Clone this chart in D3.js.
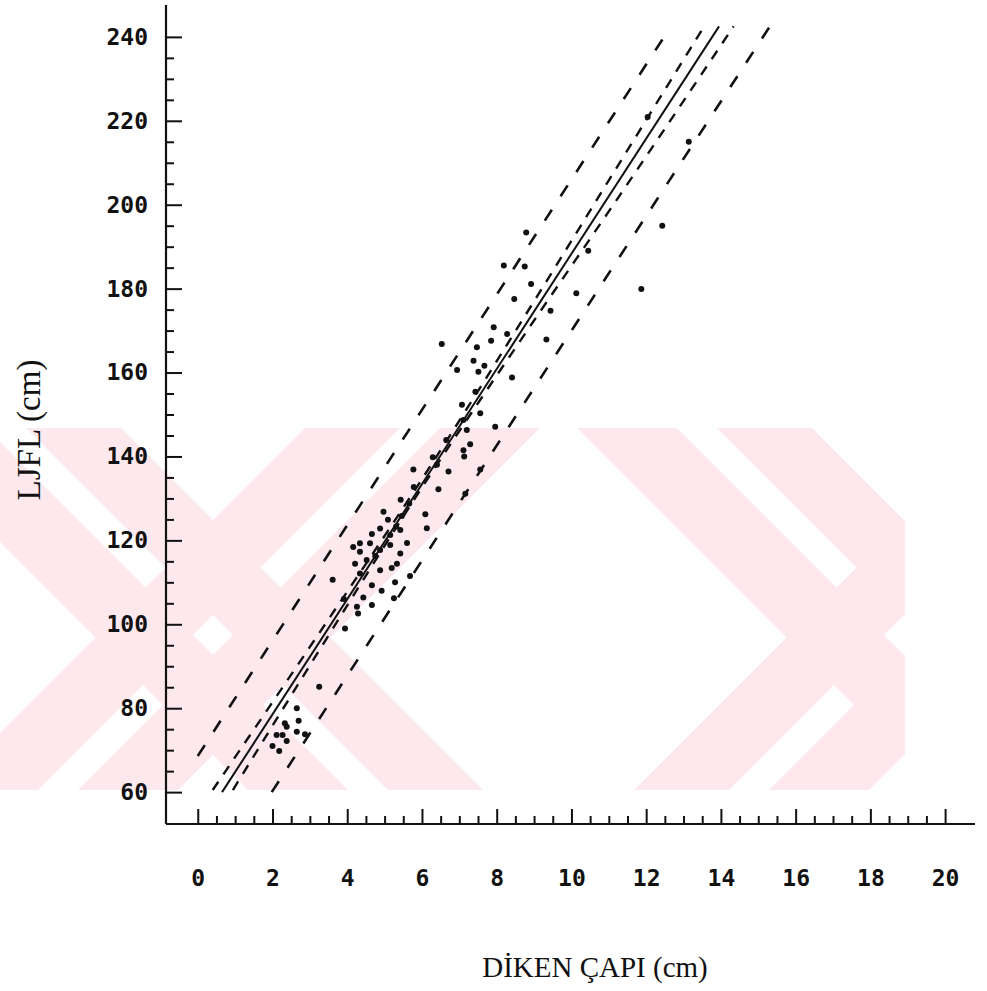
<!DOCTYPE html>
<html>
<head>
<meta charset="utf-8">
<script src="https://cdn.jsdelivr.net/npm/d3@7"></script>
<style>
  body { margin: 0; background: #fff; }
  svg { display: block; }
</style>
</head>
<body>
<svg id="chart" width="987" height="991"></svg>
<script>
// tick labels
const xTickLabels = [0, 2, 4, 6, 8, 10, 12, 14, 16, 18, 20];
const yTickLabels = [60, 80, 100, 120, 140, 160, 180, 200, 220, 240];

// spine diameter (cm) and LJFL (cm)
const spineDiameter = [
  8.79, 12.43, 10.45, 8.19, 8.75, 8.92, 10.13, 11.87, 8.47, 9.44,
  7.92, 8.28, 7.85, 9.33, 6.53, 7.47, 7.38, 7.67, 7.51, 8.41,
  6.94, 7.43, 7.07, 7.56, 7.11, 7.96, 7.20, 6.65, 7.29, 7.11,
  6.29, 7.13, 5.77, 6.71, 6.40, 7.56, 5.78, 6.44, 7.16, 5.43,
  4.97, 5.66, 6.09, 6.13, 5.09, 4.88, 4.66, 5.31, 5.46, 5.42,
  5.15, 4.34, 4.16, 4.61, 4.88, 4.75, 5.15, 5.60, 5.42, 5.33,
  4.21, 4.34, 4.52, 5.19, 4.88, 4.34, 3.61, 4.66, 5.28, 4.92,
  4.43, 3.91, 5.25, 4.66, 4.26, 4.29, 5.68, 3.94, 3.25, 2.65,
  2.33, 2.38, 2.70, 2.65, 2.87, 2.11, 2.27, 2.38, 2.00, 2.18,
  12.04, 13.14
];
const ljfl = [
  193.4, 195.0, 189.0, 185.5, 185.3, 181.1, 178.9, 179.9, 177.5, 174.7,
  170.8, 169.2, 167.6, 167.9, 166.8, 166.0, 162.8, 161.6, 160.2, 158.8,
  160.6, 155.4, 152.3, 150.3, 148.7, 147.1, 146.3, 143.9, 142.9, 141.5,
  139.8, 140.0, 136.9, 136.4, 138.0, 136.9, 132.7, 132.2, 131.1, 129.7,
  126.8, 128.8, 126.2, 122.9, 124.9, 122.8, 121.5, 123.3, 125.8, 122.5,
  121.3, 119.3, 118.4, 119.3, 117.7, 116.3, 118.9, 119.4, 116.9, 114.4,
  114.4, 117.3, 115.3, 113.4, 112.9, 112.1, 110.6, 109.3, 110.0, 108.0,
  106.4, 106.0, 106.2, 104.6, 104.2, 102.6, 111.5, 99.0, 85.1, 80.0,
  76.4, 75.6, 77.0, 74.4, 73.8, 73.6, 73.6, 72.2, 71.0, 69.8,
  220.9, 215.0
];

// regression line and bands: [diameter, ljfl] points
const regressionLine = [[0.65, 60], [13.95, 242.5]];
const upperConfidence = [[0.40, 60.5], [3, 94.6], [6, 134.6], [9, 177.0], [11, 205.8], [13.55, 242.5]];
const lowerConfidence = [[0.94, 60.5], [3, 90.2], [6, 132.6], [9, 172.4], [11, 198.4], [14.34, 242.5]];
const upperPrediction = [[0.0, 68.6], [6, 151.1], [12.45, 239.6]];
const lowerPrediction = [[1.98, 60], [8, 142.6], [15.34, 242.9]];

const svg = d3.select("#chart");

// faint striped "X" watermark of the scan (pixel space, decoration only)
const wmTop = 428, wmBottom = 790, wmRight = 905;
const wmDrop = wmBottom - wmTop;
// [left edge, right edge] at the top, direction +1 = "\" , -1 = "/"
const wmBands = [];
[0, 691].forEach(off => {
  [[-114, -14], [26, 121]].forEach(b => wmBands.push({ a: b[0] + off, b: b[1] + off, dir: 1 }));
  [[305, 400], [440, 540]].forEach(b => wmBands.push({ a: b[0] + off, b: b[1] + off, dir: -1 }));
});
svg.append("clipPath").attr("id", "wm-clip")
  .append("rect").attr("x", 0).attr("y", wmTop).attr("width", wmRight).attr("height", wmDrop);
svg.append("g")
  .attr("clip-path", "url(#wm-clip)")
  .selectAll("polygon")
  .data(wmBands)
  .join("polygon")
  .attr("points", d => [
    [d.a, wmTop], [d.b, wmTop],
    [d.b + d.dir * wmDrop, wmBottom], [d.a + d.dir * wmDrop, wmBottom]
  ].map(p => p.join(",")).join(" "))
  .attr("fill", "#fde9ed");

const x = d3.scaleLinear().domain([-0.85, 20.8]).range([166, 975]);
const y = d3.scaleLinear().domain([52.4, 247.6]).range([824, 5]);

const monoFont = "'DejaVu Sans Mono', monospace";

// x axis: minor ticks every 0.5, major every 2
const xAxisG = svg.append("g").attr("transform", `translate(0,${y(52.4)})`);
xAxisG.append("g")
  .call(d3.axisBottom(x).tickValues(d3.range(0, 20.01, 0.5).filter(v => v % 2 !== 0)).tickSize(-8).tickFormat(""))
  .call(g => g.select(".domain").remove());
xAxisG.append("g")
  .call(d3.axisBottom(x).tickValues(xTickLabels).tickSize(-15).tickPadding(46).tickFormat(d3.format("d")))
  .call(g => g.select(".domain").attr("d", `M${x.range()[0]},0H${x.range()[1]}`));

// y axis: minor ticks every 5, major every 20
const yAxisG = svg.append("g").attr("transform", `translate(${x(-0.85)},0)`);
yAxisG.append("g")
  .call(d3.axisLeft(y).tickValues(d3.range(60, 241, 5).filter(v => v % 20 !== 0)).tickSize(-8).tickFormat(""))
  .call(g => g.select(".domain").remove());
yAxisG.append("g")
  .call(d3.axisLeft(y).tickValues(yTickLabels).tickSize(-16).tickPadding(18).tickFormat(d3.format("d")))
  .call(g => g.select(".domain").attr("d", `M0,${y.range()[0]}V${y.range()[1]}`));

svg.selectAll(".tick line").attr("stroke", "#111").attr("stroke-width", 2);
svg.selectAll(".domain").attr("stroke", "#111").attr("stroke-width", 2.2);
svg.selectAll(".tick text")
  .attr("fill", "#111")
  .style("font-family", monoFont)
  .style("font-weight", "bold")
  .style("font-size", "23px");

// regression line + bands
const line = d3.line().x(d => x(d[0])).y(d => y(d[1])).curve(d3.curveMonotoneX);

svg.append("path")
  .datum(regressionLine)
  .attr("d", line)
  .attr("fill", "none")
  .attr("stroke", "#111")
  .attr("stroke-width", 2);

svg.selectAll(".conf")
  .data([upperConfidence, lowerConfidence])
  .join("path")
  .attr("class", "conf")
  .attr("d", line)
  .attr("fill", "none")
  .attr("stroke", "#111")
  .attr("stroke-width", 2.4)
  .attr("stroke-dasharray", "10,9");

svg.selectAll(".pred")
  .data([upperPrediction, lowerPrediction])
  .join("path")
  .attr("class", "pred")
  .attr("d", line)
  .attr("fill", "none")
  .attr("stroke", "#111")
  .attr("stroke-width", 2.6)
  .attr("stroke-dasharray", "13,16");

// observations
svg.append("g")
  .selectAll("circle")
  .data(d3.range(spineDiameter.length))
  .join("circle")
  .attr("cx", i => x(spineDiameter[i]))
  .attr("cy", i => y(ljfl[i]))
  .attr("r", 3)
  .attr("fill", "#111");

// axis titles
svg.append("text")
  .attr("transform", "translate(40,430) rotate(-90)")
  .attr("text-anchor", "middle")
  .style("font-family", "'Liberation Serif', 'Times New Roman', serif")
  .style("font-size", "33px")
  .attr("fill", "#111")
  .text("LJFL  (cm)");

svg.append("text")
  .attr("x", 595)
  .attr("y", 977)
  .attr("text-anchor", "middle")
  .style("font-family", "'Liberation Serif', 'Times New Roman', serif")
  .style("font-size", "29px")
  .attr("fill", "#111")
  .text("DİKEN ÇAPI  (cm)");
</script>
</body>
</html>
